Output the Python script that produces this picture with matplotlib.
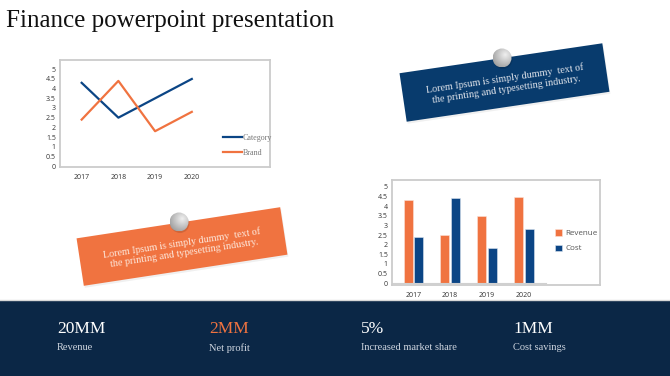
import numpy as np
import matplotlib
matplotlib.use("Agg")
import matplotlib.pyplot as plt
from matplotlib.patches import Polygon, Rectangle, Circle

# ---------------- data ----------------
years = ["2017", "2018", "2019", "2020"]
category = [4.3, 2.5, 3.5, 4.5]
brand = [2.4, 4.4, 1.8, 2.8]
revenue = [4.3, 2.5, 3.5, 4.5]
cost = [2.4, 4.4, 1.8, 2.8]
yticks = [0, 0.5, 1, 1.5, 2, 2.5, 3, 3.5, 4, 4.5, 5]
ytick_labels = ["0", "0.5", "1", "1.5", "2", "2.5", "3", "3.5", "4", "4.5", "5"]
title = "Finance powerpoint presentation"
note_text = "Lorem Ipsum is simply dummy  text of\nthe printing and typesetting industry."
stat_values = ["20MM", "2MM", "5%", "1MM"]
stat_labels = ["Revenue", "Net profit", "Increased market share", "Cost savings"]

# ---------------- style ----------------
W, H = 670, 376
NAVY = "#0b2746"
ORANGE = "#f07340"
BLUE = "#0b4585"
NOTE_BLUE = "#083b6d"
SERIF = ["Liberation Serif", "DejaVu Serif"]
SANS = ["Open Sans", "DejaVu Sans"]

fig = plt.figure(figsize=(W / 100, H / 100), dpi=100)
fig.patch.set_facecolor("white")

bg = fig.add_axes([0, 0, 1, 1], zorder=0)
bg.set_xlim(0, W)
bg.set_ylim(H, 0)
bg.axis("off")

# title
bg.text(6, 27, title, fontsize=18, family=SERIF, color="#111111",
        ha="left", va="baseline")

# bottom band
bg.add_patch(Rectangle((0, 300), W, 76, facecolor=NAVY, edgecolor="none"))
bg.plot([0, W], [299.5, 299.5], color="#d8d8d8", lw=1)
stat_x = [57, 209, 361, 513]
for i, (v, l) in enumerate(zip(stat_values, stat_labels)):
    bg.text(stat_x[i], 329, v, fontsize=12.5, family=SERIF,
            color=ORANGE if i == 1 else "white", ha="left", va="center")
    bg.text(stat_x[i], 348, l, fontsize=7.5, family=SERIF,
            color="#cfd6e0", ha="left", va="center")


def note(cx, cy, w, h, ang_deg, color, text_color, pin_xy):
    a = np.deg2rad(ang_deg)
    u = np.array([np.cos(a), -np.sin(a)])
    v = np.array([np.sin(a), np.cos(a)])
    c = np.array([cx, cy])
    pts = [c - w / 2 * u - h / 2 * v, c + w / 2 * u - h / 2 * v,
           c + w / 2 * u + h / 2 * v, c - w / 2 * u + h / 2 * v]
    shadow = [p + np.array([1.0, 2.0]) for p in pts]
    bg.add_patch(Polygon(shadow, closed=True, facecolor="#000000", alpha=0.06,
                         edgecolor="none"))
    bg.add_patch(Polygon(pts, closed=True, facecolor=color, edgecolor="none"))
    bg.text(cx + 1, cy + 1.5, note_text, fontsize=7.3, family=SERIF,
            color=text_color, ha="center", va="center", rotation=ang_deg,
            rotation_mode="anchor", linespacing=1.15, multialignment="center")
    # pin with radial gradient
    px, py = pin_xy
    r = 9.5
    n = 64
    yy, xx = np.mgrid[-1:1:n * 1j, -1:1:n * 1j]
    d = np.sqrt((xx - 0.3) ** 2 + (yy + 0.3) ** 2)
    g = np.clip(1 - d / 1.6, 0, 1)
    img = 0.60 + 0.34 * g
    rgb = np.dstack([img, img, img])
    bg.add_patch(Circle((px + 1, py + 1.5), r, facecolor="#000000", alpha=0.12,
                        edgecolor="none"))
    im = bg.imshow(rgb, extent=(px - r, px + r, py + r, py - r), aspect="auto",
                   interpolation="bilinear", zorder=3)
    circ = Circle((px, py), r, transform=bg.transData, facecolor="none",
                  edgecolor="none")
    bg.add_patch(circ)
    im.set_clip_path(circ)


note(504.5, 82.5, 205, 49, 8.4, NOTE_BLUE, "#dfe3ea", (502, 58))
note(182, 246.5, 206, 48, 8.7, ORANGE, "#fde8dc", (179, 222))
bg.set_xlim(0, W)
bg.set_ylim(H, 0)

# ---------------- line chart ----------------
def frac(x0, x1, y0, y1):
    return [x0 / W, 1 - y1 / H, (x1 - x0) / W, (y1 - y0) / H]

ax1 = fig.add_axes(frac(60, 270, 60, 167), zorder=2)
x = np.arange(len(years))
ax1.plot(x, category, color=BLUE, lw=1.6, label="Category")
ax1.plot(x, brand, color=ORANGE, lw=1.6, label="Brand")
ax1.set_xlim(-0.59, 5.13)
ax1.set_ylim(-0.05, 5.48)


def style_axes(ax):
    ax.set_facecolor("white")
    for s in ax.spines.values():
        s.set_color("#cccccc")
        s.set_linewidth(1.3)
    ax.set_xticks(x)
    ax.set_xticklabels(years, fontsize=5, family=SANS, color="#333333")
    ax.set_yticks(yticks)
    ax.set_yticklabels(ytick_labels, fontsize=5, family=SANS, color="#333333")
    ax.tick_params(length=0, pad=3)
    ax.tick_params(axis="x", pad=5)


style_axes(ax1)
ax1.legend(loc="center left", bbox_to_anchor=(0.74, 0.2), frameon=False,
           prop={"family": SERIF, "size": 5.8}, handlelength=2.4,
           handletextpad=0.1, labelspacing=0.9, labelcolor="#777777")

# ---------------- bar chart ----------------
ax2 = fig.add_axes(frac(392, 600, 180, 285), zorder=2)
bw = 0.245
ax2.bar(x - 0.145, revenue, width=bw, color=ORANGE, edgecolor="#fbe3d8",
        linewidth=0.4, label="Revenue")
ax2.bar(x + 0.145, cost, width=bw, color=BLUE, edgecolor="#dbe4ef",
        linewidth=0.4, label="Cost")
ax2.set_xlim(-0.58, 5.07)
ax2.set_ylim(-0.1, 5.36)
style_axes(ax2)
ax2.plot([-0.58, 3.6], [0, 0], color="#d0d0d0", lw=0.8)
ax2.legend(loc="center left", bbox_to_anchor=(0.75, 0.42), frameon=False,
           prop={"family": SANS, "size": 5.8}, handlelength=0.8,
           handleheight=0.8, handletextpad=0.5, labelspacing=0.9,
           labelcolor="#555555")

fig.savefig("out.png", dpi=100, facecolor="white")
